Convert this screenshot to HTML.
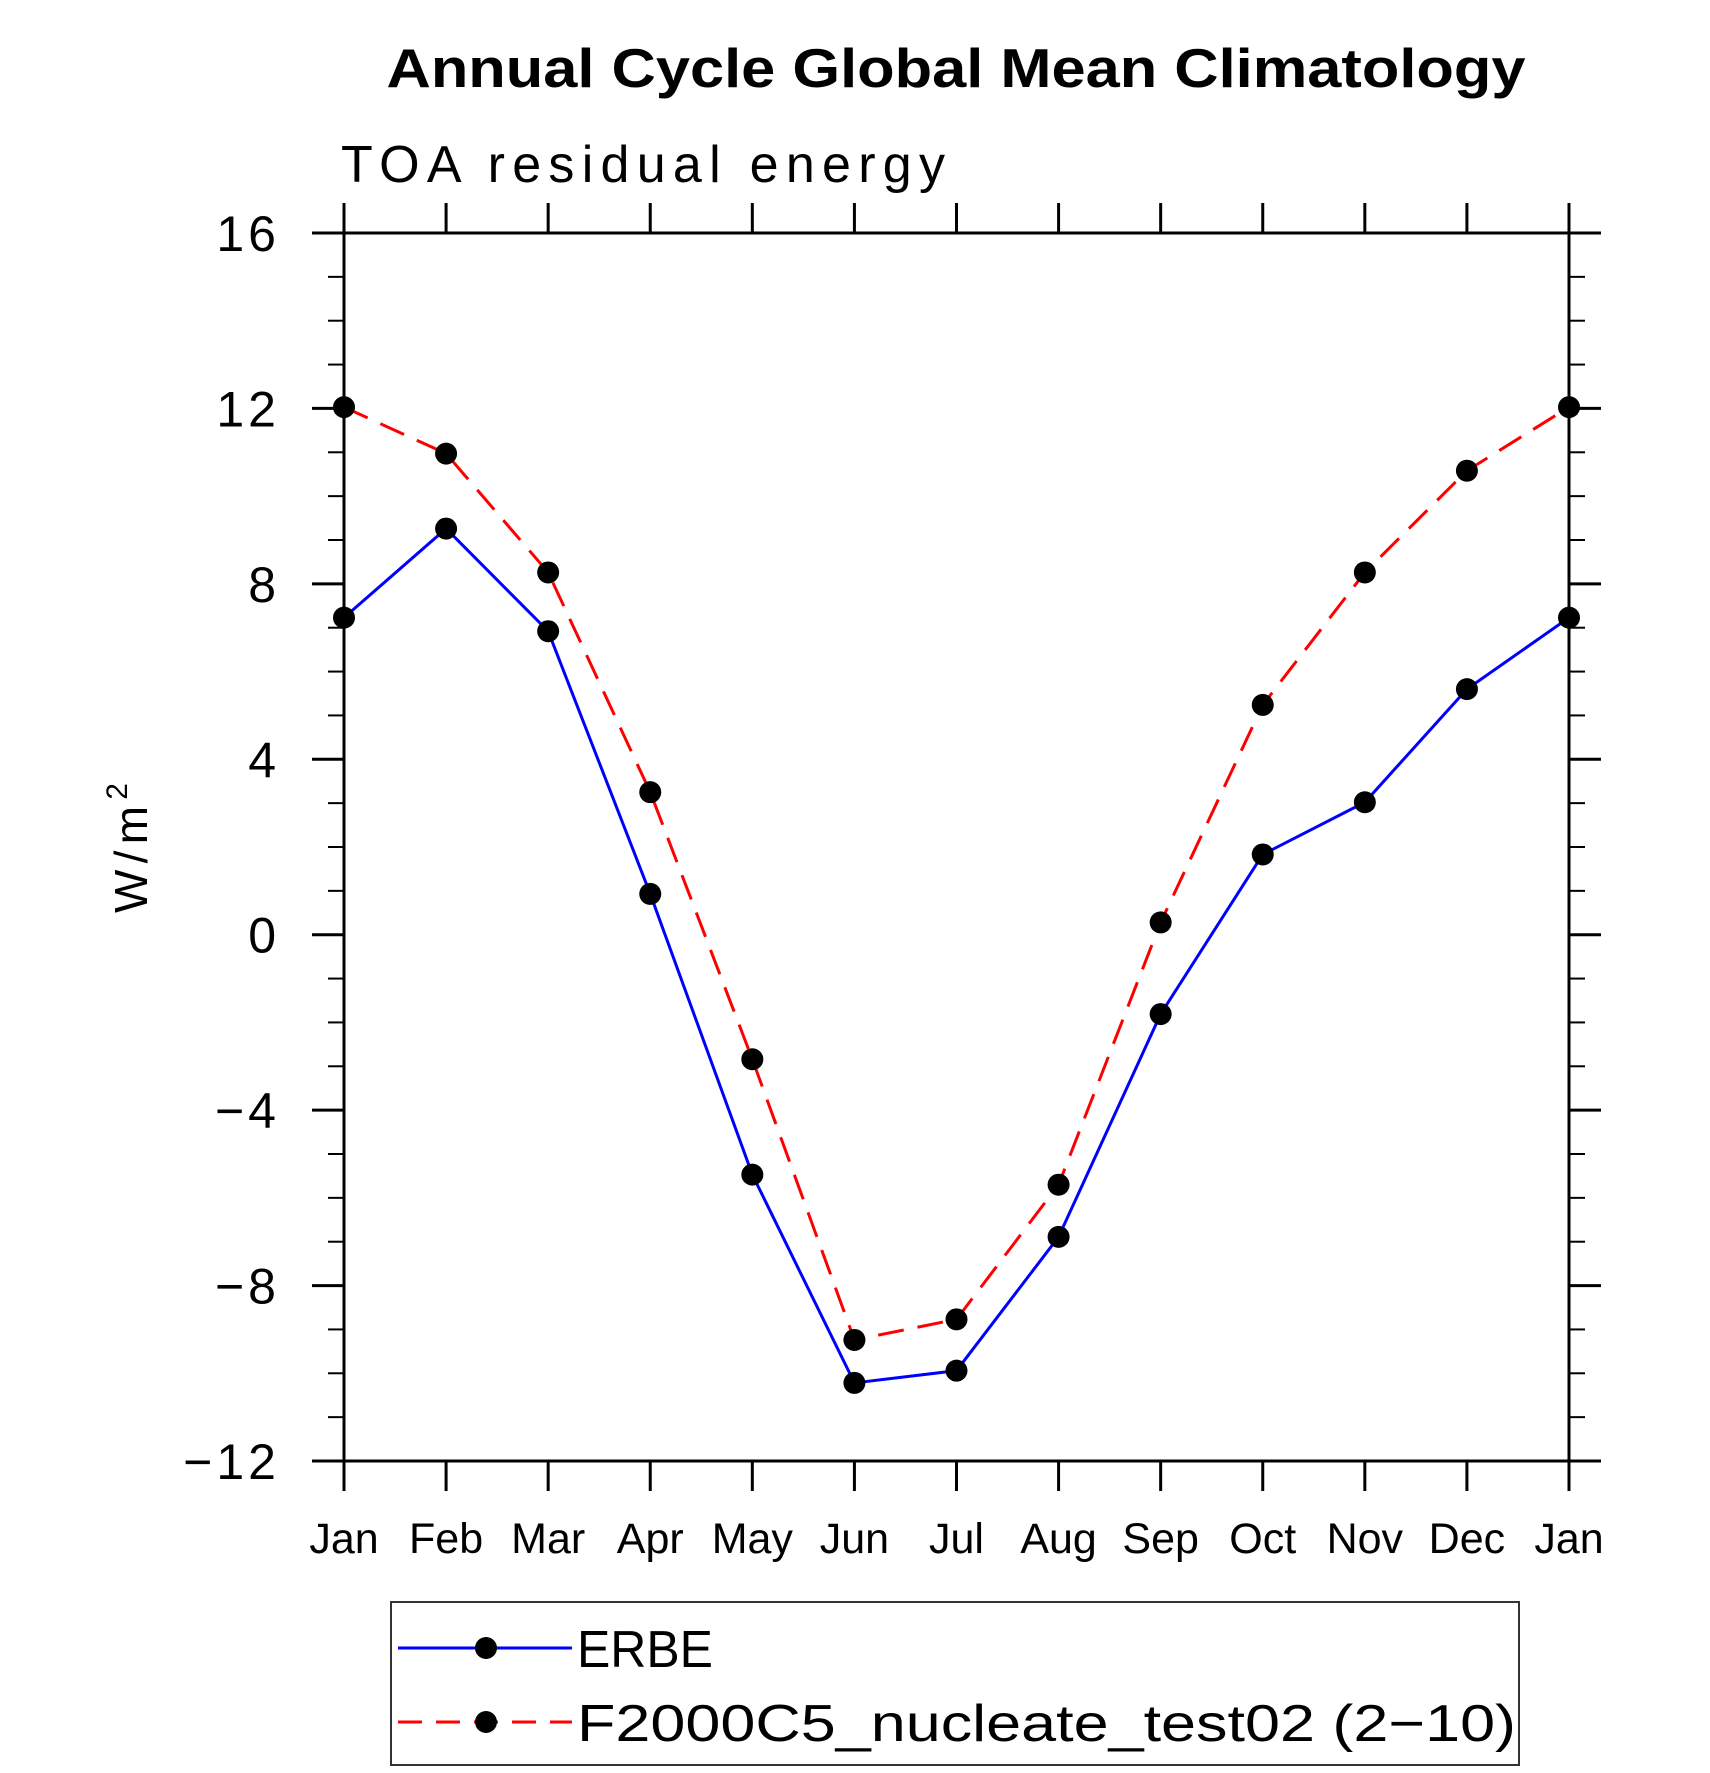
<!DOCTYPE html>
<html><head><meta charset="utf-8"><style>html,body{margin:0;padding:0;background:#fff}svg{display:block}text{font-family:"Liberation Sans",sans-serif}</style></head>
<body>
<svg id="chart" width="1710" height="1773" viewBox="0 0 1710 1773" xmlns="http://www.w3.org/2000/svg">
<text x="956" y="87" text-anchor="middle" font-size="55" font-weight="bold" textLength="1139" lengthAdjust="spacingAndGlyphs">Annual Cycle Global Mean Climatology</text>
<text x="341" y="182" font-size="52" textLength="604" lengthAdjust="spacing">TOA residual energy</text>
<text transform="translate(147,848) rotate(-90)" text-anchor="middle" font-size="46" textLength="130" lengthAdjust="spacing">W/m<tspan dy="-20" font-size="30">2</tspan></text>
<g id="axes"></g>
<g id="series"></g>
<g>
<rect x="391" y="1602" width="1128" height="163" fill="none" stroke="#333" stroke-width="2"/>
<g>
<line x1="398" y1="1648" x2="572" y2="1648" stroke="#0000ff" stroke-width="3"/>
<circle cx="486" cy="1648" r="11"/>
<text x="577" y="1667" font-size="52" textLength="136" lengthAdjust="spacingAndGlyphs">ERBE</text>
</g>
<g>
<line x1="398" y1="1722" x2="572" y2="1722" stroke="#ff0000" stroke-width="3" stroke-dasharray="24,14"/>
<circle cx="486" cy="1722" r="11"/>
<text x="577" y="1741" font-size="52" textLength="939" lengthAdjust="spacingAndGlyphs">F2000C5_nucleate_test02 (2−10)</text>
</g>
</g>
</svg>
<script>
const months = ["Jan","Feb","Mar","Apr","May","Jun","Jul","Aug","Sep","Oct","Nov","Dec","Jan"];
const erbeValues = [7.23,9.26,6.92,0.93,-5.47,-10.22,-9.94,-6.89,-1.81,1.83,3.02,5.6,7.23];
const modelValues = [12.03,10.97,8.26,3.25,-2.84,-9.24,-8.77,-5.7,0.28,5.24,8.26,10.58,12.03];
const yTickValues = [16,12,8,4,0,-4,-8,-12];
const yTickLabels = ["16","12","8","4","0","\u22124","\u22128","\u221212"];

const NS = "http://www.w3.org/2000/svg";
const L = 344, R = 1569, T = 233, B = 1461, YMIN = -12, YMAX = 16;
function xPos(i){ return L + (R - L) * i / (months.length - 1); }
function yPos(v){ return B - (v - YMIN) / (YMAX - YMIN) * (B - T); }
function mk(tag, attrs, parent){ const e = document.createElementNS(NS, tag); for (const k in attrs) e.setAttribute(k, attrs[k]); parent.appendChild(e); return e; }

const axes = document.getElementById('axes');
const frame = mk('rect', {x:L, y:T, width:R-L, height:B-T, fill:'none', stroke:'#000', 'stroke-width':3}, axes);


months.forEach((m, i) => {
  const x = xPos(i);
  mk('line', {x1:x, y1:T, x2:x, y2:T-30, stroke:'#000', 'stroke-width':3}, axes);
  mk('line', {x1:x, y1:B, x2:x, y2:B+30, stroke:'#000', 'stroke-width':3}, axes);
  const t = mk('text', {x:x, y:1553, 'text-anchor':'middle', 'font-size':43}, axes);
  t.textContent = m;
  
  
});
for (let v = YMIN; v <= YMAX; v++) {
  const y = yPos(v);
  const major = v % 4 === 0;
  const len = major ? 32 : 16;
  mk('line', {x1:L, y1:y, x2:L-len, y2:y, stroke:'#000', 'stroke-width':major?3:2}, axes);
  mk('line', {x1:R, y1:y, x2:R+len, y2:y, stroke:'#000', 'stroke-width':major?3:2}, axes);
}
yTickValues.forEach((v, i) => {
  const t = mk('text', {x:280, y:yPos(v)+18, 'text-anchor':'end', 'font-size':50, 'letter-spacing':4}, axes);
  t.textContent = yTickLabels[i];
  
  
});

const series = document.getElementById('series');
function drawSeries(vals, color, dash, name){
  const pts = vals.map((v, i) => xPos(i) + ',' + yPos(v)).join(' ');
  const line = mk('polyline', {points:pts, fill:'none', stroke:color, 'stroke-width':3, 'stroke-dasharray':dash}, series);
  
  
  vals.forEach((v, i) => {
    const c = mk('circle', {cx:xPos(i), cy:yPos(v), r:11, fill:'#000'}, series);
    
    
  });
}
drawSeries(modelValues, '#ff0000', '26,14', 'model');
drawSeries(erbeValues, '#0000ff', 'none', 'erbe');
</script>
</body></html>
